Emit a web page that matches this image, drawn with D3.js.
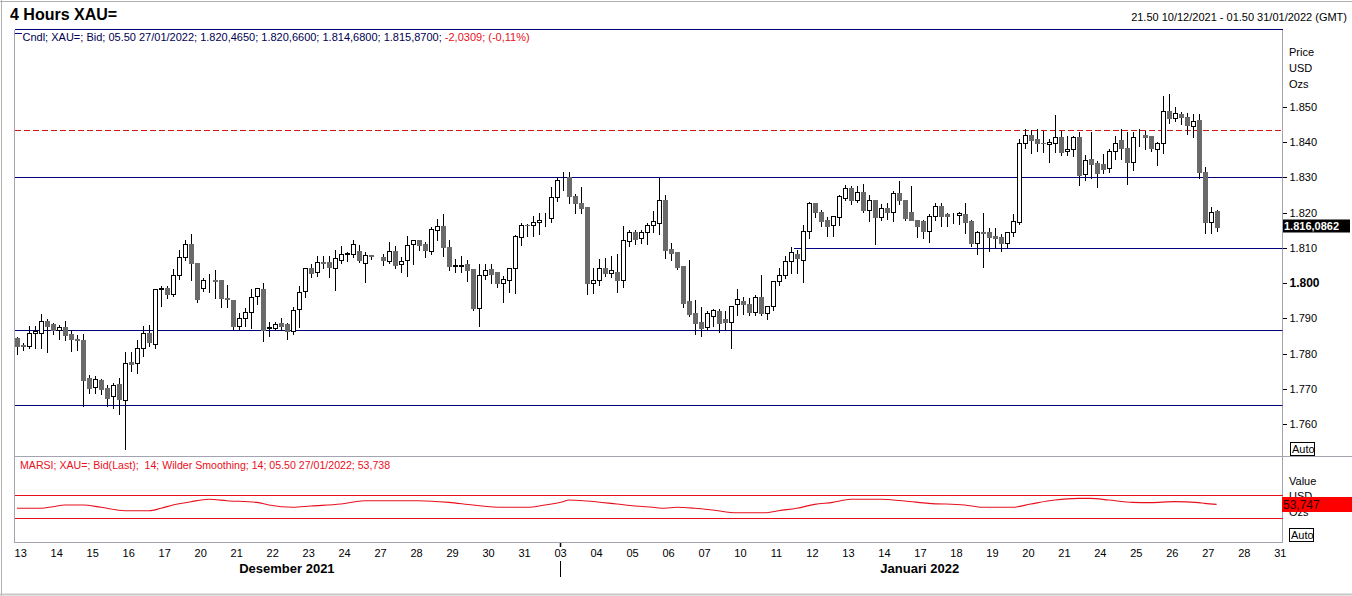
<!DOCTYPE html>
<html><head><meta charset="utf-8">
<script src="https://cdn.jsdelivr.net/npm/d3@7/dist/d3.min.js"></script>
<style>
html,body{margin:0;padding:0;background:#fff;overflow:hidden;}
svg{display:block;font-family:"Liberation Sans",Arial,sans-serif;}
</style></head><body>
<svg id="chart" width="1352" height="596"></svg>
<script>
// ---------- DATA (4-hour candles, slot index = position in array; null = no candle) ----------
const opens = [
1784.4,1782.5,1782.1,1786.0,1786.0,1789.4,1788.3,1786.7,1787.5,1785.6,
1784.2,1783.9,1773.1,1770.5,1772.5,1770.3,1767.9,1771.3,1767.0,1777.6,
1777.4,1781.6,1786.0,1782.8,1798.2,1798.6,1797.0,1802.2,1807.3,1811.0,
1805.6,1798.7,1800.8,1801.0,1800.8,1795.7,1795.2,1787.9,1790.0,1791.7,
1796.4,1798.3,1787.4,1787.4,1788.6,1788.4,1786.3,1792.8,1797.9,1804.4,
1803.1,1805.9,1805.9,1804.4,1806.7,1808.4,1808.4,1809.0,1805.8,1808.1,
null,1807.4,1806.4,1809.1,1805.3,1806.5,1811.0,1812.2,1811.0,1809.2,
1815.2,1816.1,1810.2,1805.0,1805.0,1805.3,1804.0,1793.0,1802.2,1803.9,
1803.1,1800.1,1801.0,1804.2,1813.0,1816.6,1816.5,1817.2,1818.4,1818.5,
1824.5,1829.8,1830.1,1824.8,1822.6,1821.5,1800.1,1801.0,1804.2,1803.0,
1803.1,1800.8,1811.9,1814.4,1812.7,1814.5,1816.6,1817.1,1823.7,1809.8,
1808.8,1805.0,1794.9,1791.5,1789.0,1787.7,1790.6,1792.1,1789.8,1789.1,
1794.0,1794.9,1794.0,1791.9,1796.0,1791.4,1793.5,1800.6,1802.2,1806.4,
1808.3,1806.7,1814.7,1822.6,1820.1,1817.8,1816.6,1818.7,1824.2,1827.0,
1823.7,1825.8,1820.6,1823.5,1818.7,1821.2,1820.2,1825.6,1823.5,1820.1,
1818.0,1817.6,1814.9,1819.0,1822.0,1819.6,1819.4,1819.4,1819.7,1817.5,
1811.5,1814.6,1814.4,1813.4,1813.1,1811.4,1814.4,1817.4,1839.8,1842.1,
1840.8,1839.7,1839.4,1839.8,1841.3,1837.5,1838.1,1841.3,1830.9,1835.1,
1834.0,1833.7,1832.6,1837.5,1840.6,1838.2,1834.4,1841.0,1841.9,1841.7,
1838.1,1839.7,1848.9,1846.9,1847.9,1847.0,1844.6,1846.2,1831.5,1817.2,
1820.465];
const highs = [
1784.7,1783.1,1787.8,1787.8,1791.2,1789.7,1788.8,1788.0,1789.2,1786.7,
1785.3,1785.5,1773.9,1773.7,1772.9,1771.1,1771.8,1773.2,1780.5,1780.5,
1783.8,1787.8,1788.0,1798.4,1799.2,1799.2,1804.1,1809.5,1812.1,1813.9,
1805.6,1801.5,1802.5,1803.6,1801.0,1799.6,1795.2,1791.4,1793.0,1798.4,
1798.5,1799.9,1789.0,1789.0,1790.2,1788.8,1793.2,1799.2,1804.4,1805.4,
1807.8,1807.8,1807.6,1809.5,1810.5,1808.8,1812.2,1810.7,1808.8,1808.1,
null,1808.4,1811.6,1810.5,1807.5,1813.3,1812.1,1812.2,1811.6,1815.9,
1818.2,1819.7,1812.2,1806.9,1807.6,1806.7,1804.0,1805.3,1805.3,1805.3,
1803.1,1802.0,1804.2,1813.7,1817.1,1816.9,1819.0,1819.9,1819.9,1827.3,
1830.1,1831.5,1831.5,1825.4,1827.2,1821.5,1804.2,1806.9,1807.2,1807.6,
1808.4,1816.3,1815.0,1815.0,1815.2,1817.1,1820.4,1829.7,1825.1,1811.4,
1808.8,1805.0,1806.7,1795.2,1793.2,1792.1,1792.8,1792.8,1792.1,1793.6,
1798.2,1796.0,1795.8,1796.6,1802.3,1793.5,1800.6,1804.2,1807.6,1810.2,
1809.5,1816.6,1823.0,1822.6,1820.6,1818.7,1818.9,1825.1,1827.7,1827.5,
1827.5,1828.0,1824.9,1823.5,1822.3,1822.8,1826.1,1828.9,1823.5,1827.5,
1818.0,1818.0,1819.7,1822.6,1822.6,1819.9,1820.0,1820.2,1822.7,1817.8,
1814.8,1819.8,1815.5,1815.5,1813.8,1814.4,1819.5,1840.8,1843.6,1843.4,
1843.8,1843.2,1840.8,1847.6,1843.2,1841.7,1841.7,1842.7,1836.3,1842.9,
1834.7,1836.5,1838.0,1841.7,1843.8,1842.7,1842.9,1843.8,1843.2,1841.7,
1840.0,1852.9,1853.5,1849.8,1848.5,1848.3,1847.9,1847.9,1832.8,1821.7,
1820.66];
const lows = [
1780.0,1781.1,1781.7,1781.7,1781.7,1780.6,1785.7,1784.2,1784.0,1780.7,
1781.0,1765.3,1768.9,1768.9,1768.7,1765.3,1764.7,1763.0,1752.9,1775.1,
1774.6,1779.4,1782.2,1781.7,1793.5,1795.8,1796.3,1801.3,1806.7,1801.0,
1794.7,1797.9,1797.6,1795.8,1793.3,1793.3,1786.9,1787.1,1787.8,1787.4,
1794.0,1783.6,1785.0,1786.7,1786.7,1784.2,1785.7,1787.5,1796.1,1801.8,
1802.0,1804.2,1801.8,1798.0,1805.8,1806.3,1807.5,1805.9,1800.3,1806.9,
null,1805.2,1805.8,1804.3,1803.1,1802.0,1805.5,1809.5,1807.5,1808.4,
1812.2,1807.8,1803.6,1803.1,1803.1,1800.6,1792.3,1787.9,1801.2,1800.1,
1799.0,1794.6,1797.5,1797.3,1810.8,1813.3,1813.3,1814.0,1816.1,1817.3,
1823.3,1826.5,1822.8,1819.9,1819.9,1797.0,1797.3,1799.6,1802.0,1801.8,
1797.5,1799.0,1810.5,1811.2,1811.4,1811.1,1814.5,1813.8,1807.2,1806.7,
1803.9,1793.3,1790.6,1785.5,1785.0,1786.6,1787.8,1786.2,1786.6,1781.7,
1790.9,1791.3,1790.9,1790.9,1790.9,1789.7,1792.5,1799.4,1801.5,1802.9,
1802.9,1800.4,1812.7,1818.7,1816.1,1813.5,1813.3,1816.6,1823.7,1822.5,
1823.0,1820.2,1817.6,1811.0,1817.8,1818.3,1817.6,1822.5,1818.0,1817.8,
1813.1,1812.8,1811.7,1818.0,1816.1,1816.1,1817.1,1816.8,1814.2,1810.6,
1808.2,1804.7,1809.2,1810.1,1809.2,1810.1,1813.4,1816.7,1838.4,1837.0,
1837.5,1837.2,1834.2,1837.2,1836.3,1836.3,1836.1,1827.8,1829.3,1829.9,
1827.3,1831.2,1831.5,1835.1,1835.1,1828.0,1832.1,1838.9,1838.0,1837.5,
1833.4,1836.8,1845.5,1846.0,1845.0,1842.2,1841.3,1829.9,1814.2,1814.2,
1814.68];
const closes = [
1782.3,1782.1,1786.0,1786.4,1789.3,1787.9,1786.7,1787.5,1785.4,1784.2,
1784.0,1772.6,1770.3,1772.7,1770.1,1767.5,1771.1,1767.2,1777.5,1777.2,
1781.5,1786.0,1783.4,1798.3,1798.5,1797.0,1802.2,1807.3,1811.2,1805.6,
1795.6,1800.8,1800.9,1800.5,1795.8,1795.4,1787.9,1790.0,1791.7,1796.0,
1798.5,1786.6,1787.5,1788.4,1787.9,1786.3,1792.3,1797.6,1804.4,1802.9,
1805.9,1805.6,1804.6,1807.0,1808.4,1808.5,1811.2,1806.5,1808.1,1807.6,
null,1806.6,1809.0,1805.1,1806.4,1810.7,1812.1,1810.8,1809.3,1815.3,
1816.1,1810.3,1804.9,1805.1,1805.1,1803.7,1793.0,1802.2,1803.8,1802.7,
1800.1,1801.2,1804.2,1813.3,1816.6,1816.4,1817.3,1818.0,1818.5,1824.3,
1829.1,1829.9,1824.7,1822.6,1821.3,1799.9,1801.0,1804.2,1802.9,1803.6,
1800.9,1812.1,1814.6,1812.4,1814.5,1816.6,1817.5,1823.7,1809.4,1808.6,
1804.5,1794.4,1791.3,1788.8,1787.3,1791.4,1792.3,1788.8,1789.1,1793.4,
1795.4,1794.0,1791.8,1796.0,1791.4,1793.5,1800.6,1802.2,1806.4,1808.8,
1807.0,1814.9,1822.6,1820.2,1817.6,1816.3,1818.9,1824.6,1827.0,1823.7,
1825.8,1820.6,1823.7,1818.7,1821.2,1820.2,1825.6,1823.5,1818.5,1818.0,
1816.1,1814.9,1819.0,1822.0,1818.9,1819.0,1819.4,1819.8,1817.4,1811.3,
1814.4,1814.3,1813.2,1812.8,1811.4,1814.4,1817.5,1839.8,1842.1,1840.6,
1839.8,1839.6,1840.0,1841.3,1837.2,1838.1,1841.3,1830.6,1834.9,1833.7,
1831.2,1832.3,1837.5,1839.7,1838.2,1834.4,1841.3,1841.0,1841.5,1838.2,
1839.7,1848.9,1846.8,1848.3,1847.2,1844.8,1845.9,1831.5,1817.2,1820.3,
1815.87];

// RSI (Wilder) readings: slot index and value
const rsiIndex = [0,4,6,8,11,14,18,22,24,26,29,32,35,40,42,46,49,54,58,67,72,76,81,85,88,91,92,95,100,103,106,108,110,113,116,120,125,127,130,133,136,139,144,148,152,158,161,166,169,173,177,179,182,186,189,193,197,198,200];
const rsiValue = [46.9,46.9,49.7,52.6,52.6,48.6,42.7,42.7,46.9,52.6,58.4,62.5,60.1,57.2,52.6,48.6,50.9,54.3,60.1,60.1,57.2,52.6,48.6,48.6,52.6,58.4,61.3,59.6,54.3,50.9,48.6,46.9,48.6,46.9,43.9,39.2,39.2,42.7,46.9,53.7,57.2,62.5,62.5,59.6,55.5,52.6,48.6,48.6,54.3,61.3,64.2,64.2,61.3,57.2,56.7,58.4,56.7,55.5,53.7];
const rsiLevels = [70, 30];

// Drawn horizontal price levels (navy) and resistance (red dashed)
const navyLevels = [1830.2, 1786.8, 1765.55];
const navyPartialLevel = 1809.9, navyPartialStart = 129.5;
const redDashedLevel = 1843.5;

// Axis labels
const priceTicks = [1760,1770,1780,1790,1800,1810,1820,1830,1840,1850];
const dayLabels = ["13","14","15","16","17","20","21","22","23","24","27","28","29","30","31",
                   "03","04","05","06","07","10","11","12","13","14","17","18","19","20","21","24","25","26","27","28","31"];
const months = [{label:"Desember 2021", from:0, to:15}, {label:"Januari 2022", from:15, to:35.17}];
const yearBreakDay = 15;
const lastPrice = 1816.0862, lastPriceText = "1.816,0862";
const lastRsi = 53.747, lastRsiText = "53,747";

// ---------- CHART ----------
const svg = d3.select("#chart");
const L = 14.5, R = 1282.5, T = 30, B1 = 456.5, B2 = 542.5;
const frameCol = "#a4a4b0", navy = "#000080", red = "#e8101e";

const x = d3.scaleLinear().domain([0, 200]).range([17, 1216.6]);
const y = d3.scaleLinear().domain([1760, 1850]).range([424.3, 106.7]);
const ry = d3.scaleLinear().domain([30, 70]).range([518, 495]);
const dayX = d => x(d * 6 + 0.54);

svg.append("defs").append("clipPath").attr("id", "clipP")
  .append("rect").attr("x", L).attr("y", T).attr("width", R - L).attr("height", B1 - T);

// outer frame
svg.append("line").attr("x1",0).attr("x2",1352).attr("y1",1.5).attr("y2",1.5).attr("stroke","#b0b0b0");
svg.append("line").attr("x1",1.5).attr("x2",1.5).attr("y1",0).attr("y2",596).attr("stroke","#b0b0b0");
svg.append("line").attr("x1",0).attr("x2",1352).attr("y1",594.5).attr("y2",594.5).attr("stroke","#c8c8c8").attr("stroke-width",2);

// titles
svg.append("text").attr("x",10).attr("y",20).attr("font-size",16).attr("font-weight","bold").text("4 Hours XAU=");
svg.append("text").attr("x",1347).attr("y",21).attr("font-size",11).attr("text-anchor","end")
  .text("21.50 10/12/2021 - 01.50 31/01/2022 (GMT)");

// panel borders
const grid = svg.append("g").attr("shape-rendering","crispEdges");
grid.append("line").attr("x1",L).attr("x2",L).attr("y1",T).attr("y2",B2).attr("stroke",frameCol);
grid.append("line").attr("x1",R).attr("x2",R).attr("y1",T).attr("y2",B2).attr("stroke",frameCol);
grid.append("line").attr("x1",L).attr("x2",1352).attr("y1",B1).attr("y2",B1).attr("stroke",frameCol);
grid.append("line").attr("x1",L).attr("x2",R).attr("y1",B2).attr("y2",B2).attr("stroke",frameCol);
grid.append("line").attr("x1",L).attr("x2",R).attr("y1",T-0.5).attr("y2",T-0.5).attr("stroke",navy);

// level lines
const lv = svg.append("g").attr("clip-path","url(#clipP)").attr("shape-rendering","crispEdges");
lv.selectAll("line.nv").data(navyLevels).join("line").attr("class","nv")
  .attr("x1",L).attr("x2",R).attr("y1",d=>Math.round(y(d))+0.5).attr("y2",d=>Math.round(y(d))+0.5)
  .attr("stroke",navy).attr("stroke-width",1);
lv.append("line").attr("x1",x(navyPartialStart)).attr("x2",R)
  .attr("y1",Math.round(y(navyPartialLevel))+0.5).attr("y2",Math.round(y(navyPartialLevel))+0.5)
  .attr("stroke",navy);
lv.append("line").attr("x1",L).attr("x2",R)
  .attr("y1",Math.round(y(redDashedLevel))+0.5).attr("y2",Math.round(y(redDashedLevel))+0.5)
  .attr("stroke","#d01818").attr("stroke-dasharray","6,3");

// candles
const candles = opens.map((o,i) => o == null ? null : {i, o, h:highs[i], l:lows[i], c:closes[i]}).filter(Boolean);
const cg = svg.append("g").attr("clip-path","url(#clipP)").attr("shape-rendering","crispEdges");
const cx = d => Math.round(x(d.i)) + 0.5;
cg.selectAll("line.wick").data(candles).join("line").attr("class","wick")
  .attr("x1",cx).attr("x2",cx)
  .attr("y1",d=>Math.round(y(d.h))).attr("y2",d=>Math.round(y(d.l))+1)
  .attr("stroke","#000").attr("stroke-width",1);
cg.selectAll("rect.down").data(candles.filter(d=>d.c<d.o)).join("rect").attr("class","down")
  .attr("x",d=>cx(d)-2.5).attr("width",5)
  .attr("y",d=>Math.round(y(d.o)))
  .attr("height",d=>Math.max(1,Math.round(y(d.c))-Math.round(y(d.o))+1))
  .attr("fill","#6a6a6a");
cg.selectAll("rect.up").data(candles.filter(d=>d.c>=d.o)).join("rect").attr("class","up")
  .attr("x",d=>cx(d)-2).attr("width",4)
  .attr("y",d=>Math.round(y(d.c))+0.5)
  .attr("height",d=>Math.max(0,Math.round(y(d.o))-Math.round(y(d.c))))
  .attr("fill","#fff").attr("stroke","#000").attr("stroke-width",1);

// legend line
svg.append("line").attr("x1",15).attr("x2",22).attr("y1",33.5).attr("y2",33.5).attr("stroke",navy);
const leg = svg.append("text").attr("x",22.5).attr("y",41).attr("font-size",11);
leg.append("tspan").attr("fill","#000050")
  .text("Cndl; XAU=; Bid; 05.50 27/01/2022; 1.820,4650; 1.820,6600; 1.814,6800; 1.815,8700; ");
leg.append("tspan").attr("fill",red).text("-2,0309; (-0,11%)");

// price axis
const yAxis = d3.axisRight(y).tickValues(priceTicks).tickSize(4).tickPadding(3)
  .tickFormat(v => (v/1000).toFixed(3));
const ya = svg.append("g").attr("transform",`translate(${R},0)`).call(yAxis);
ya.select(".domain").remove();
ya.selectAll(".tick line").attr("stroke","#000").attr("shape-rendering","crispEdges");
ya.selectAll(".tick text").attr("font-family","Liberation Sans, Arial, sans-serif")
  .attr("font-size",d=>d===1800?12:11).attr("font-weight",d=>d===1800?"bold":"normal").attr("fill","#000");

[["Price",56],["USD",72],["Ozs",88]].forEach(([t,yy]) =>
  svg.append("text").attr("x",1289).attr("y",yy).attr("font-size",11).text(t));

// last price label
const lpY = Math.round(y(lastPrice));
svg.append("rect").attr("x",1283).attr("y",lpY-6.5).attr("width",67).attr("height",13).attr("fill","#000");
svg.append("text").attr("x",1284).attr("y",lpY+4).attr("font-size",11).attr("font-weight","bold")
  .attr("fill","#fff").text(lastPriceText);

// Auto boxes
function autoBox(x0, y0){
  svg.append("rect").attr("x",x0+0.5).attr("y",y0+0.5).attr("width",24).attr("height",13)
    .attr("fill","#fff").attr("stroke","#000").attr("shape-rendering","crispEdges");
  svg.append("text").attr("x",x0+2).attr("y",y0+11).attr("font-size",11).text("Auto");
}
autoBox(1290, 442);
autoBox(1289, 528);

// RSI panel
svg.append("text").attr("x",20).attr("y",469).attr("font-size",10.6).attr("fill",red)
  .attr("xml:space","preserve")
  .text("MARSI; XAU=; Bid(Last);  14; Wilder Smoothing; 14; 05.50 27/01/2022; 53,738");
svg.append("g").attr("shape-rendering","crispEdges").selectAll("line").data(rsiLevels).join("line")
  .attr("x1",L).attr("x2",R).attr("y1",d=>Math.round(ry(d))+0.5).attr("y2",d=>Math.round(ry(d))+0.5)
  .attr("stroke",red).attr("stroke-width",1.2);
const rsiPts = rsiIndex.map((k,j)=>[k, rsiValue[j]]);
svg.append("path").datum(rsiPts)
  .attr("d", d3.line().x(d=>x(d[0])).y(d=>ry(d[1])).curve(d3.curveMonotoneX))
  .attr("fill","none").attr("stroke",red).attr("stroke-width",1.1);

[["Value",485],["USD",500],["Ozs",516]].forEach(([t,yy]) =>
  svg.append("text").attr("x",1289).attr("y",yy).attr("font-size",11).text(t));
const lrY = Math.round(ry(lastRsi));
svg.append("rect").attr("x",1282).attr("y",lrY-7).attr("width",70).attr("height",15).attr("fill","#ff0000");
svg.append("text").attr("x",1283).attr("y",lrY+5).attr("font-size",12).attr("fill","#300000").text(lastRsiText);

// date axis
const dayIdx = dayLabels.map((_,k)=>k*6+0.54);
const xAxis = d3.axisBottom(x).tickValues(dayIdx).tickSize(0).tickPadding(7)
  .tickFormat((_,k)=>dayLabels[k]);
const xa = svg.append("g").attr("transform",`translate(0,${B2})`).call(xAxis);
xa.select(".domain").remove();
xa.selectAll(".tick text").attr("font-family","Liberation Sans, Arial, sans-serif").attr("font-size",11).attr("fill","#000");

// year break marker
const yb = Math.round(dayX(yearBreakDay))+0.5;
svg.append("line").attr("x1",yb).attr("x2",yb).attr("y1",543).attr("y2",547).attr("stroke","#000").attr("stroke-width",1.5);
svg.append("line").attr("x1",yb).attr("x2",yb).attr("y1",561).attr("y2",577).attr("stroke","#000");

// month labels
svg.selectAll("text.month").data(months).join("text").attr("class","month")
  .attr("x",d=>x((d.from+d.to)/2*6)).attr("y",573).attr("text-anchor","middle")
  .attr("font-size",13).attr("font-weight","bold").text(d=>d.label);
</script>
</body></html>
